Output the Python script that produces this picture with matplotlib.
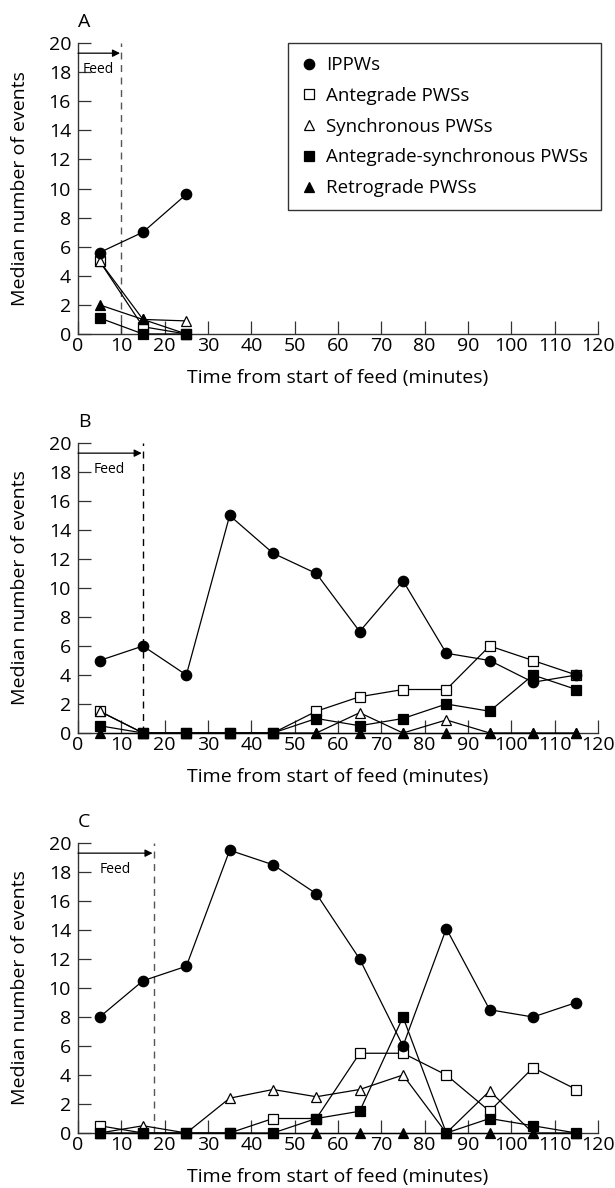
import numpy as np
import matplotlib.pyplot as plt
from matplotlib.lines import Line2D

plt.rcParams['font.family'] = ['Open Sans', 'DejaVu Sans']

# time points (minutes from start of feed)
t_a = [5, 15, 25]
t_bc = [5, 15, 25, 35, 45, 55, 65, 75, 85, 95, 105, 115]

# panel A
ippw_a = [5.6, 7.0, 9.6]
ante_a = [5.0, 0.5, 0.0]
sync_a = [5.0, 1.0, 0.9]
antesync_a = [1.1, 0.0, 0.0]
retro_a = [2.0, 1.0, 0.0]

# panel B
ippw_b = [5, 6, 4, 15, 12.4, 11, 7, 10.5, 5.5, 5, 3.5, 4]
ante_b = [1.5, 0, 0, 0, 0, 1.5, 2.5, 3, 3, 6, 5, 4]
sync_b = [1.5, 0, 0, 0, 0, 0, 1.4, 0, 0.9, 0, 0, 0]
antesync_b = [0.5, 0, 0, 0, 0, 1, 0.5, 1, 2, 1.5, 4, 3]
retro_b = [0, 0, 0, 0, 0, 0, 0, 0, 0, 0, 0, 0]

# panel C
ippw_c = [8, 10.5, 11.5, 19.5, 18.5, 16.5, 12, 6, 14.1, 8.5, 8, 9]
ante_c = [0.5, 0, 0, 0, 1, 1, 5.5, 5.5, 4, 1.5, 4.5, 3]
sync_c = [0, 0.5, 0, 2.4, 3, 2.5, 3, 4, 0, 2.9, 0, 0]
antesync_c = [0, 0, 0, 0, 0, 1, 1.5, 8, 0, 1, 0.5, 0]
retro_c = [0, 0, 0, 0, 0, 0, 0, 0, 0, 0, 0, 0]

feed_end = {'A': 10, 'B': 15, 'C': 17.5}
feed_text_x = {'A': 1.0, 'B': 3.6, 'C': 5.0}

series_names = ['IPPWs', 'Antegrade PWSs', 'Synchronous PWSs',
                'Antegrade-synchronous PWSs', 'Retrograde PWSs']
styles = [
    dict(marker='o', mfc='black', ms=7.5),
    dict(marker='s', mfc='white', ms=6.5),
    dict(marker='^', mfc='white', ms=7.5),
    dict(marker='s', mfc='black', ms=6.5),
    dict(marker='^', mfc='black', ms=7.5),
]
# stacking: open squares lowest, then open triangles, filled triangles,
# filled squares, circles on top
zorders = [7, 3, 4, 6, 5]

fig = plt.figure(figsize=(6.15, 11.88), dpi=100)
W, H = 615, 1188
left, right = 78, 598
panels = [('A', 43, 334, t_a, [ippw_a, ante_a, sync_a, antesync_a, retro_a], '#555555'),
          ('B', 443, 733, t_bc, [ippw_b, ante_b, sync_b, antesync_b, retro_b], 'black'),
          ('C', 843, 1133, t_bc, [ippw_c, ante_c, sync_c, antesync_c, retro_c], '#555555')]

for letter, top, bottom, t, data, dash_col in panels:
    ax = fig.add_axes([left / W, 1 - bottom / H, (right - left) / W, (bottom - top) / H])
    for i in range(5):
        ax.plot(t, data[i], color='black', lw=0.9, mec='black', mew=0.9,
                clip_on=False, zorder=zorders[i], **styles[i])

    fe = feed_end[letter]
    ax.plot([fe, fe], [0, 20], ls=(0, (5, 4)), color=dash_col, lw=1.0, zorder=1)
    ax.annotate('', xy=(fe - 0.3, 19.3), xytext=(0, 19.3),
                arrowprops=dict(arrowstyle='-|>', color='black', lw=0.9,
                                mutation_scale=11, shrinkA=0, shrinkB=0))
    ax.text(feed_text_x[letter], 18.2, 'Feed', fontsize=10, ha='left', va='center')

    ax.set_xlim(0, 120)
    ax.set_ylim(0, 20)
    ax.set_xticks(np.arange(0, 121, 10))
    ax.set_yticks(np.arange(0, 21, 2))
    ax.spines['top'].set_visible(False)
    ax.spines['right'].set_visible(False)
    for s in ['left', 'bottom']:
        ax.spines[s].set_linewidth(1.0)
        ax.spines[s].set_color('#333333')
    ax.tick_params(direction='in', length=9.5, width=0.9, colors='#333333',
                   labelcolor='black', labelsize=14)
    ax.tick_params(axis='x', pad=2)
    ax.tick_params(axis='y', pad=5)
    ax.set_xlabel('Time from start of feed (minutes)', fontsize=14)
    ax.set_ylabel('Median number of events', fontsize=14)
    ax.xaxis.set_label_coords(0.5, -0.12)
    ax.yaxis.set_label_coords(-0.095, 0.5)
    ax.text(0.0, 1.04, letter, transform=ax.transAxes, fontsize=14,
            ha='left', va='bottom')

    if letter == 'A':
        handles = [Line2D([], [], ls='none', color='black', mec='black', mew=0.9, **st)
                   for st in styles]
        leg = ax.legend(handles, series_names, loc='upper right',
                        bbox_to_anchor=(1.006, 1.0), borderaxespad=0,
                        fancybox=False, edgecolor='#333333', framealpha=1,
                        fontsize=13.5, handlelength=0.8, handletextpad=0.5,
                        labelspacing=0.68, borderpad=0.7)
        leg.get_frame().set_linewidth(1.0)

fig.savefig('out.png', dpi=100)
